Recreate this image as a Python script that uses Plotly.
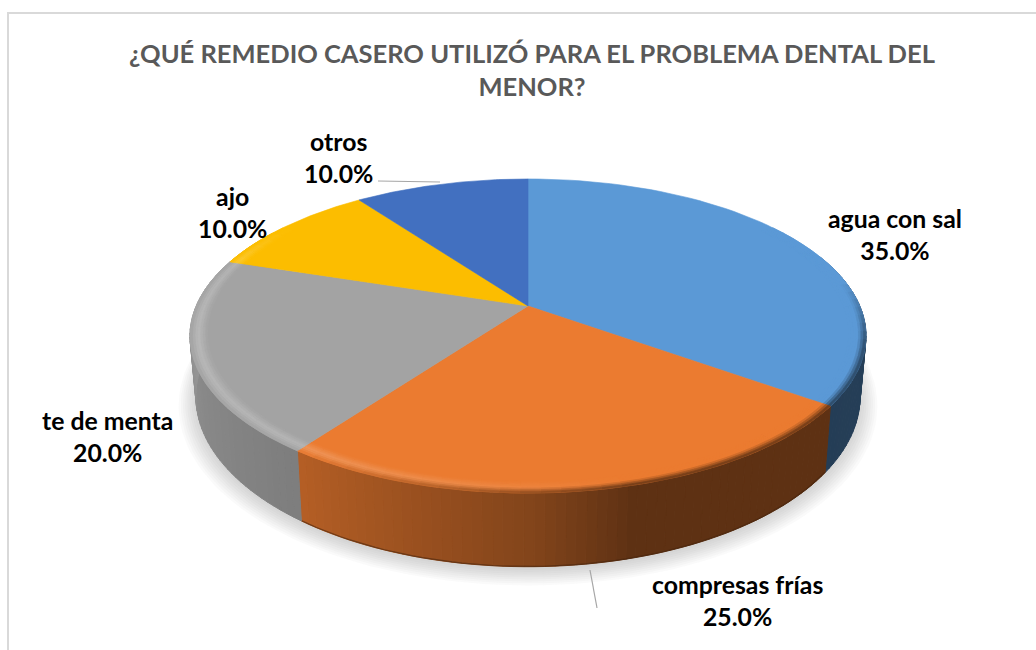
import numpy as np
import plotly.graph_objects as go

# ---- data ----
categories = ["agua con sal", "compresas frías", "te de menta", "ajo", "otros"]
values = [35.0, 25.0, 20.0, 10.0, 10.0]
title_text = "¿QUÉ REMEDIO CASERO UTILIZÓ PARA EL PROBLEMA DENTAL DEL<br>MENOR?"

# ---- style ----
colors = ["#5B99D6", "#EB7B30", "#A3A3A3", "#FCBD00", "#4270C0"]
label_xy = [(895, 234), (737, 600), (107, 436), (232, 212), (338, 157)]
FONT = "Lato, Carlito, Calibri, sans-serif"

W, H = 1036, 650
CX = 528.0
KP = 0.191                 # perspective strength of the tilted disc
TOP = dict(a=331.8, b=151.3, cy=306.0)
LOW = dict(a=326.0, b=164.0, cy=364.0)


def project(theta_deg, t, p):
    th = np.radians(theta_deg)
    u, v = t * np.sin(th), t * np.cos(th)
    w = 1 + KP * v
    return CX + p["a"] * u / w, p["cy"] - p["b"] * v / w


def rgb(c):
    c = c.lstrip("#")
    return np.array([int(c[i:i + 2], 16) for i in (0, 2, 4)], float)


def css(a):
    a = np.clip(a, 0, 255).round().astype(int)
    return f"rgb({a[0]},{a[1]},{a[2]})"


def side_factor(theta):
    return np.interp(theta, [60, 85, 126, 165, 180, 216, 250, 275, 300],
                     [1.0, .42, .40, .40, .56, .77, .85, .95, 1.0])


def rim_factor(theta):
    return np.interp(theta, [80, 105, 126, 165, 180, 216, 250, 275, 300],
                     [1.0, .45, .42, .42, .60, 1.0, 1.0, 1.0, 1.0])


def highlight(theta):
    return np.interp(theta, [165, 190, 216, 260, 290, 305],
                     [0, .12, .20, .24, .18, 0])


fig = go.Figure()


def poly(xs, ys, color, lw=1.0, opacity=1.0):
    xs, ys = list(xs), list(ys)
    fig.add_trace(go.Scatter(x=xs + xs[:1], y=ys + ys[:1], mode="lines", fill="toself",
                             fillcolor=color, line=dict(color=color, width=lw),
                             opacity=opacity, hoverinfo="skip", showlegend=False))


# soft shadow under the disc
full = np.linspace(0, 360, 181)
for t, dy in zip(np.linspace(1.05, 1.0, 9), np.linspace(6, 3, 9)):
    sx, sy = project(full, t, LOW)
    poly(sx, sy + dy, "rgb(120,120,120)", lw=0, opacity=0.035)

fractions = np.array(values) / np.sum(values)
edges = np.concatenate([[0], np.cumsum(fractions) * 360])

# side wall
for i, col in enumerate(colors):
    base = rgb(col)
    lo, hi = max(edges[i], 70), min(edges[i + 1], 302)
    if lo >= hi:
        continue
    th = np.linspace(lo, hi, int((hi - lo) / 1.5) + 2)
    for a, b in zip(th[:-1], th[1:]):
        x0, y0 = project(np.array([a, b]), 1.0, TOP)
        x1, y1 = project(np.array([b, a]), 1.0, LOW)
        poly(np.r_[x0, x1], np.r_[y0, y1], css(base * side_factor((a + b) / 2)))
    if categories[i] == "compresas frías":
        lx, ly = project(th, 0.999, LOW)
        fig.add_trace(go.Scatter(x=lx, y=ly, mode="lines",
                                 line=dict(color=css(base * 0.3), width=1.2),
                                 opacity=0.6, hoverinfo="skip", showlegend=False))

# top face
for i, col in enumerate(colors):
    th = np.linspace(edges[i], edges[i + 1], 60)
    ax, ay = project(th, 1.0, TOP)
    poly(np.r_[CX, ax], np.r_[TOP["cy"], ay], col, lw=0.6)

# bevelled rim on the visible front edge
rings = np.linspace(0.95, 1.0, 8)
for i, col in enumerate(colors):
    base = rgb(col)
    lo, hi = max(edges[i], 55), min(edges[i + 1], 305)
    if lo >= hi:
        continue
    th = np.linspace(lo, hi, int((hi - lo) / 3) + 2)
    for a, b in zip(th[:-1], th[1:]):
        m = (a + b) / 2
        light = base + highlight(m) * (255 - base)
        edge = base * rim_factor(m)
        for k, (t0, t1) in enumerate(zip(rings[:-1], rings[1:])):
            s = (k + 0.5) / (len(rings) - 1)
            c = base + (light - base) * (s / .55) if s < .55 else light + (edge - light) * ((s - .55) / .45)
            x0, y0 = project(np.array([a, b]), t0, TOP)
            x1, y1 = project(np.array([b, a]), t1, TOP)
            poly(np.r_[x0, x1], np.r_[y0, y1], css(c), lw=0.7)

# leader lines
leader_x = [[378, 440], [590, 597]]
leader_y = [[181, 182], [570, 608]]
for lx, ly in zip(leader_x, leader_y):
    fig.add_trace(go.Scatter(x=lx, y=ly, mode="lines", line=dict(color="#A6A6A6", width=1.2),
                             hoverinfo="skip", showlegend=False))

annotations = [dict(x=x, y=y, xref="x", yref="y", showarrow=False, align="center",
                    text=f"<b>{c}<br>{v:.1f}%</b>",
                    font=dict(family=FONT, size=24.8, color="#000000"))
               for (x, y), c, v in zip(label_xy, categories, values)]

fig.update_layout(
    width=W, height=H, margin=dict(l=0, r=0, t=0, b=0, pad=0),
    paper_bgcolor="white", plot_bgcolor="white", showlegend=False, hovermode=False,
    title=dict(text=f"<b>{title_text}</b>", x=532 / W, xanchor="center", y=1 - 63 / H,
               yanchor="middle", font=dict(family=FONT, size=25.5, color="#595959")),
    xaxis=dict(range=[0, W], visible=False, fixedrange=True),
    yaxis=dict(range=[H, 0], visible=False, fixedrange=True),
    annotations=annotations,
    shapes=[dict(type="rect", xref="x", yref="y", x0=8, y0=13, x1=W + 20, y1=H + 20,
                 line=dict(color="#D9D9D9", width=2), layer="below")],
)

fig.write_html("out.html", config={"displayModeBar": False},
               post_script="document.body.style.margin='0';document.body.style.overflow='hidden';")
